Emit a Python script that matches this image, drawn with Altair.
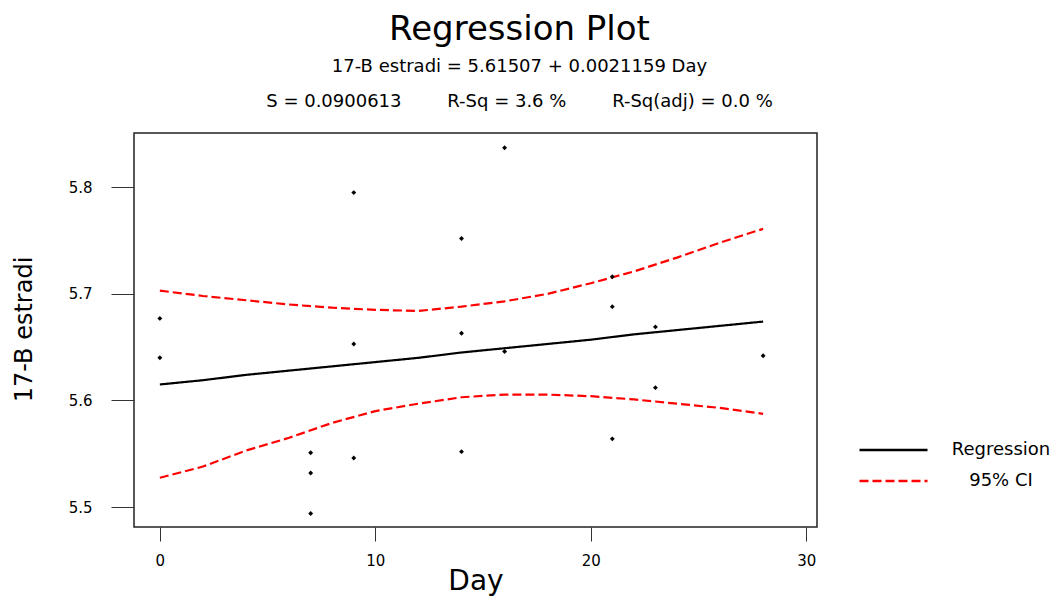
import altair as alt
import pandas as pd

# ---- data ----
point_day = [0, 0, 7, 7, 7, 9, 9, 9, 14, 14, 14, 16, 16, 21, 21, 21, 23, 23, 28]
point_val = [5.677, 5.640, 5.551, 5.532, 5.494, 5.795, 5.653, 5.546, 5.752, 5.663,
             5.552, 5.837, 5.646, 5.716, 5.688, 5.564, 5.669, 5.612, 5.642]

line_day = [0, 2, 4, 6, 8, 10, 12, 14, 16, 18, 20, 22, 24, 26, 28]
reg_val = [5.615, 5.619, 5.624, 5.628, 5.632, 5.636, 5.640, 5.645, 5.649, 5.653,
           5.657, 5.662, 5.666, 5.670, 5.674]
upper_val = [5.703, 5.698, 5.694, 5.690, 5.687, 5.685, 5.684, 5.688, 5.693, 5.700,
             5.710, 5.721, 5.734, 5.748, 5.761]
lower_val = [5.5275, 5.538, 5.553, 5.565, 5.579, 5.590, 5.597, 5.603, 5.6055, 5.6055,
             5.604, 5.601, 5.597, 5.593, 5.5875]

series_names = ["Regression", "95% CI"]
x_ticks = [0, 10, 20, 30]
y_ticks = [5.5, 5.6, 5.7, 5.8]

title_text = "Regression Plot"
eq_text = "17-B estradi = 5.61507 + 0.0021159 Day"
NB = "\u00a0"
stats_text = ("S = 0.0900613" + NB * 8 + "R-Sq = 3.6 %" + NB * 8 + "R-Sq(adj) = 0.0 %")

# ---- tables ----
points = pd.DataFrame({"day": point_day, "value": point_val})
rows = []
for series, part, vals in [("Regression", "reg", reg_val),
                           ("95% CI", "upper", upper_val),
                           ("95% CI", "lower", lower_val)]:
    for d, v in zip(line_day, vals):
        rows.append({"day": d, "value": v, "series": series, "part": part})
lines = pd.DataFrame(rows)

FONT = "DejaVu Sans"

x_enc = alt.X(
    "day:Q",
    scale=alt.Scale(domain=[-1.2, 30.5], nice=False, zero=False),
    axis=alt.Axis(values=x_ticks, title="Day", format="d", domain=False, grid=False,
                  tickSize=14, tickColor="#333", labelPadding=12,
                  labelFont=FONT, labelFontSize=15, labelColor="black",
                  titleFont=FONT, titleFontSize=28, titleFontWeight="normal",
                  titleColor="black", titleY=62, titleBaseline="alphabetic"),
)
y_enc = alt.Y(
    "value:Q",
    scale=alt.Scale(domain=[5.4813, 5.8509], nice=False, zero=False),
    axis=alt.Axis(values=y_ticks, title="17-B estradi", format=".1f", domain=False,
                  grid=False, tickSize=23, tickColor="#333", labelPadding=19,
                  labelFont=FONT, labelFontSize=15, labelColor="black",
                  titleFont=FONT, titleFontSize=24, titleFontWeight="normal",
                  titleColor="black", titleAngle=270, titleX=-103, titleY=196,
                  titleAlign="center", titleBaseline="alphabetic"),
)

leg = alt.Legend(title=None, orient="none", legendX=724, legendY=307,
                 symbolType="stroke", symbolSize=4624, symbolStrokeWidth=2.5,
                 labelFont=FONT, labelFontSize=18, labelColor="black",
                 labelAlign="center", labelOffset=72, clipHeight=20,
                 rowPadding=11, padding=0)

line_layer = alt.Chart(lines).mark_line(strokeWidth=2.2).encode(
    x=x_enc,
    y=y_enc,
    color=alt.Color("series:N", scale=alt.Scale(domain=series_names, range=["black", "red"]),
                    legend=leg),
    strokeDash=alt.StrokeDash("series:N",
                              scale=alt.Scale(domain=series_names, range=[[1, 0], [9, 4]]),
                              legend=leg),
    detail="part:N",
    order="day:Q",
)

point_layer = alt.Chart(points).mark_point(shape="diamond", filled=True, size=24,
                                           color="black", opacity=1).encode(
    x=x_enc,
    y=y_enc,
)

chart = alt.layer(line_layer, point_layer).properties(
    width=683,
    height=394,
    background="white",
    autosize=alt.AutoSizeParams(type="none"),
    padding={"left": 126, "top": 125, "right": 237, "bottom": 69},
    title=alt.TitleParams(
        text=title_text,
        subtitle=[eq_text, stats_text],
        anchor="middle",
        dx=44,
        offset=22,
        font=FONT, fontSize=34, fontWeight="normal", color="black",
        subtitleFont=FONT, subtitleFontSize=18, subtitleColor="black",
        subtitleLineHeight=35, subtitlePadding=11,
    ),
).configure_view(
    stroke="#222", strokeWidth=1.5
)

chart.save("out.html", embed_options={"renderer": "svg", "actions": False})
